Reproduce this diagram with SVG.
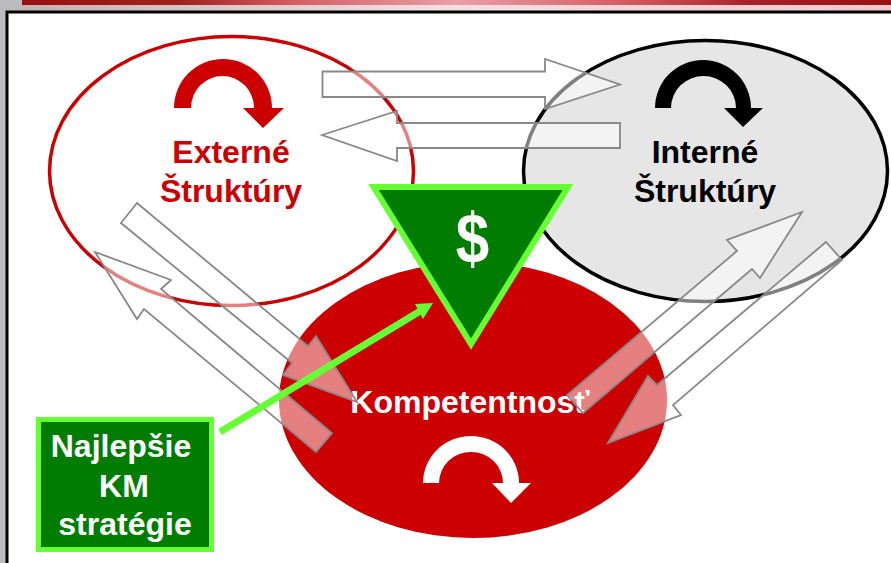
<svg xmlns="http://www.w3.org/2000/svg" width="891" height="563" viewBox="0 0 891 563">
<defs>
<linearGradient id="bar" x1="0" x2="1" y1="0" y2="0"><stop offset="0" stop-color="#981010"/><stop offset="0.18" stop-color="#a02020"/><stop offset="0.32" stop-color="#d86068"/><stop offset="0.5" stop-color="#e8a0a8"/><stop offset="0.68" stop-color="#d86068"/><stop offset="0.84" stop-color="#a82028"/><stop offset="1" stop-color="#981010"/></linearGradient>
<linearGradient id="band" x1="0" x2="1" y1="0" y2="0"><stop offset="0" stop-color="#c0b0b2"/><stop offset="0.5" stop-color="#f4e0e2"/><stop offset="1" stop-color="#f0c8cc"/></linearGradient>
</defs>
<style>
.t{font-family:"Liberation Sans",Arial,sans-serif;font-weight:700;font-size:32px;text-anchor:middle}
.b{fill:#fff;fill-opacity:.5;stroke:#888;stroke-width:1.8}
.g{fill:#007c00;stroke:#66ff33}
</style>
<rect width="891" height="563" fill="#fff"/>
<rect x="0" y="0" width="6" height="563" fill="#bcbcc0"/>
<rect x="0" y="0" width="891" height="11" fill="url(#band)"/>
<rect x="0" y="0" width="22" height="11" fill="#bcbcc0"/>
<rect x="22" y="0" width="869" height="5" fill="url(#bar)"/>
<rect x="7" y="12" width="890" height="560" fill="#fff" stroke="#000" stroke-width="3"/>
<g id="externe">
<ellipse cx="231.500" cy="171" rx="182" ry="134.500" fill="#fff" stroke="#cc0000" stroke-width="3.500"/>
<path d="M174,108A49,49 0 0 1 272,108L284,108L263,128L243,108L254,108A31.500,32 0 0 0 191,108Z" fill="#cc0000"/>
<text class="t" x="231" y="163" fill="#cc0000">Externé</text>
<text class="t" x="231" y="202" fill="#cc0000">Štruktúry</text>
</g>
<g id="interne">
<ellipse cx="705.500" cy="171" rx="182" ry="130.500" fill="#e6e6e6" stroke="#000" stroke-width="3.500"/>
<path d="M655,108A48,48 0 0 1 751,108L763,108L743,127L724,108L736,108A32.500,32 0 0 0 671,108Z" fill="#000"/>
<text class="t" x="705" y="163" fill="#000">Interné</text>
<text class="t" x="705" y="202" fill="#000">Štruktúry</text>
</g>
<g id="kompetentnost">
<ellipse cx="473" cy="400" rx="194" ry="138" fill="#cc0000"/>
<path d="M423,483A48,47 0 0 1 519,483L531,483L511,503L492,483L503,483A32,31 0 0 0 439,483Z" fill="#fff"/>
<text class="t" x="470" y="413" fill="#fff">Kompetentnosť</text>
</g>
<g id="connectors">
<polygon class="b" points="322.500,71.500 545,71.500 545,59 620,84.500 545,109 545,97 322.500,97"/>
<polygon class="b" points="322,135 397,111 397,123 620,123 620,148 397,148 397,161"/>
<polygon class="b" points="137,203 308,346 316,336 357,402 283,375 292,363 121,223"/>
<polygon class="b" points="95,252 171,280 161,289 332,433 316,452 144,309 137,319"/>
<polygon class="b" points="802,212 727,240 737,251 567,395 583,413 752,269 760,278"/>
<polygon class="b" points="826,242 657,385 648,376 608,443 681,415 673,405 842,260"/>
<path d="M220,432L422,310" fill="none" stroke="#66ff33" stroke-width="7"/>
<polygon points="433,303 415,304 423,319" fill="#66ff33"/>
</g>
<g id="dollar">
<polygon class="g" stroke-width="6" points="373.500,187 568,187 471,344"/>
<text class="t" transform="translate(472.500,263) scale(.86,1)" fill="#fff" style="font-size:70px">$</text>
</g>
<g id="strategie">
<rect class="g" x="38.500" y="419.500" width="173" height="130" stroke-width="5"/>
<text class="t" x="121" y="457" fill="#fff">Najlepšie</text>
<text class="t" x="124" y="497" fill="#fff">KM</text>
<text class="t" x="125" y="535" fill="#fff">stratégie</text>
</g>
</svg>
